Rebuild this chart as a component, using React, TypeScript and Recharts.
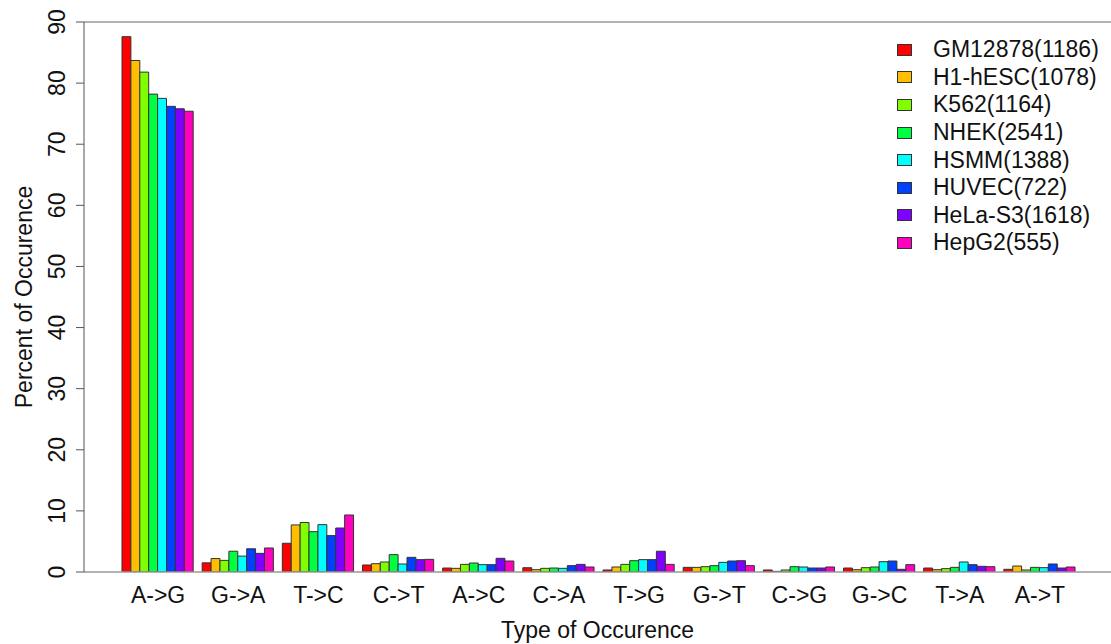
import React from "react";
import { BarChart, Bar, XAxis, YAxis, ReferenceLine } from "recharts";

// Substitution types on the x axis
const categories = ["A->G", "G->A", "T->C", "C->T", "A->C", "C->A", "T->G", "G->T", "C->G", "G->C", "T->A", "A->T"];

// Percent of occurrence per cell line, in category order
const gm12878 = [87.6, 1.5, 4.7, 1.15, 0.65, 0.7, 0.33, 0.76, 0.33, 0.65, 0.65, 0.44];
const h1hesc = [83.7, 2.2, 7.7, 1.36, 0.6, 0.38, 0.82, 0.76, 0.1, 0.38, 0.38, 0.98];
const k562 = [81.8, 1.9, 8.1, 1.64, 1.25, 0.6, 1.25, 0.87, 0.33, 0.71, 0.55, 0.33];
const nhek = [78.2, 3.4, 6.6, 2.84, 1.47, 0.65, 1.85, 1.04, 0.87, 0.82, 0.76, 0.76];
const hsmm = [77.5, 2.6, 7.75, 1.31, 1.2, 0.6, 2.02, 1.58, 0.82, 1.69, 1.64, 0.71];
const huvec = [76.2, 3.8, 5.95, 2.4, 1.2, 1.04, 2.02, 1.8, 0.65, 1.8, 1.2, 1.31];
const helas3 = [75.8, 3.05, 7.2, 2.02, 2.24, 1.25, 3.4, 1.85, 0.65, 0.44, 0.93, 0.65];
const hepg2 = [75.4, 3.93, 9.33, 2.07, 1.8, 0.82, 1.25, 1.04, 0.82, 1.2, 0.87, 0.82];

const seriesNames = [
  "GM12878(1186)",
  "H1-hESC(1078)",
  "K562(1164)",
  "NHEK(2541)",
  "HSMM(1388)",
  "HUVEC(722)",
  "HeLa-S3(1618)",
  "HepG2(555)",
];
const seriesValues = [gm12878, h1hesc, k562, nhek, hsmm, huvec, helas3, hepg2];
const seriesColors = ["#FF0000", "#FFBF00", "#80FF00", "#00FF40", "#00FFFF", "#0040FF", "#8000FF", "#FF00BF"];

const yTicks = [0, 10, 20, 30, 40, 50, 60, 70, 80, 90];

const FONT = "'Liberation Sans', Arial, Helvetica, sans-serif";
const FS = 23;

const rows = categories.map((cat, i) => {
  const row: Record<string, string | number> = { cat };
  seriesValues.forEach((vals, s) => {
    row["s" + s] = vals[i];
  });
  return row;
});

const YTick = (props: any) => {
  const { x, y, payload } = props;
  const bx = x - 9;
  return (
    <text
      x={bx}
      y={y}
      transform={`rotate(-90 ${bx} ${y})`}
      textAnchor="middle"
      fontSize={FS}
      fontFamily={FONT}
      fill="#111"
    >
      {payload.value}
    </text>
  );
};

const XTick = (props: any) => {
  const { x, y, payload } = props;
  return (
    <text x={x} y={y + 31} textAnchor="middle" fontSize={FS} fontFamily={FONT} fill="#111">
      {payload.value}
    </text>
  );
};

// Key in the top-right corner, one row per cell line
const LegendBox = () => (
  <div
    style={{
      position: "absolute",
      left: 897,
      top: 36,
      fontFamily: FONT,
      fontSize: FS,
      color: "#111",
    }}
  >
    {seriesNames.map((name, s) => (
      <div key={name} style={{ display: "flex", alignItems: "center", height: 27.6 }}>
        <div
          style={{
            width: 15,
            height: 12,
            background: seriesColors[s],
            border: "1px solid #333",
            boxSizing: "border-box",
            marginRight: 21,
          }}
        />
        <span style={{ whiteSpace: "nowrap" }}>{name}</span>
      </div>
    ))}
  </div>
);

export default function App() {
  return (
    <div style={{ position: "absolute", left: 0, top: 0, width: 1111, height: 644, background: "#fff" }}>
      <BarChart
        width={1111}
        height={644}
        data={rows}
        margin={{ top: 22, right: 0, bottom: 0, left: 0 }}
        barGap={0}
        barSize={8.9}
      >
        <XAxis
          dataKey="cat"
          axisLine={false}
          tickLine={false}
          tickSize={0}
          tickMargin={0}
          padding={{ left: 34, right: 31 }}
          tick={<XTick />}
          interval={0}
          height={72}
          label={{
            content: (p: any) => {
              const vb = p.viewBox;
              return (
                <text
                  x={vb.x + vb.width / 2}
                  y={vb.y + 66}
                  textAnchor="middle"
                  fontSize={FS}
                  fontFamily={FONT}
                  fill="#111"
                >
                  Type of Occurence
                </text>
              );
            },
          }}
        />
        <YAxis
          domain={[0, 90]}
          ticks={yTicks}
          width={84}
          tickSize={8}
          tickMargin={2}
          stroke="#555"
          tick={<YTick />}
          interval={0}
          allowDataOverflow
          label={{
            content: (p: any) => {
              const vb = p.viewBox;
              const cx = 31.5;
              const cy = vb.y + vb.height / 2;
              return (
                <text
                  x={cx}
                  y={cy}
                  transform={`rotate(-90 ${cx} ${cy})`}
                  textAnchor="middle"
                  fontSize={FS}
                  fontFamily={FONT}
                  fill="#111"
                >
                  Percent of Occurence
                </text>
              );
            },
          }}
        />
        <ReferenceLine y={90} stroke="#999" strokeWidth={1.5} />
        {seriesNames.map((name, s) => (
          <Bar
            key={name}
            dataKey={"s" + s}
            name={name}
            fill={seriesColors[s]}
            stroke="#333"
            strokeWidth={1}
            isAnimationActive={false}
          />
        ))}
        <ReferenceLine y={0} stroke="#999" strokeWidth={1.5} />
      </BarChart>
      <LegendBox />
    </div>
  );
}
